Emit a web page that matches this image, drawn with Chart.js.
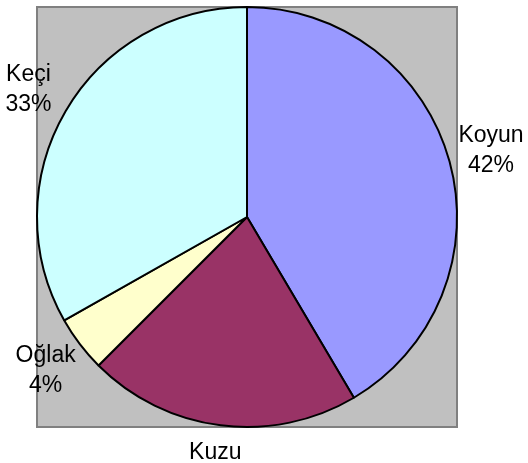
<!DOCTYPE html>
<html lang="tr">
<head>
  <meta charset="UTF-8">
  <title>Hayvan dağılımı</title>
  <script src="https://cdn.jsdelivr.net/npm/chart.js"></script>
  <style>
    html, body {
      margin: 0;
      padding: 0;
      background: #fff;
    }
    #wrap {
      width: 528px;
      height: 463px;
    }
  </style>
</head>
<body>
  <div id="wrap"><canvas id="pie"></canvas></div>
  <script>
    // data
    const categories = ['Koyun', 'Kuzu', 'Oğlak', 'Keçi'];
    const values = [41.5, 21, 4.3, 33.2];
    const sliceColors = ['#9999FF', '#993366', '#FFFFCC', '#CCFFFF'];

    const total = values.reduce((a, b) => a + b, 0);

    // gray plot area behind the pie
    const plotBox = {
      id: 'plotBox',
      beforeDraw(chart) {
        const { ctx, chartArea: a } = chart;
        ctx.save();
        ctx.fillStyle = '#C0C0C0';
        ctx.fillRect(a.left + 1, a.top + 1, a.width - 2, a.height - 2);
        ctx.strokeStyle = '#808080';
        ctx.lineWidth = 2;
        ctx.strokeRect(a.left + 1, a.top + 1, a.width - 2, a.height - 2);
        ctx.restore();
      }
    };

    // name + percent outside each slice
    const outsideLabels = {
      id: 'outsideLabels',
      afterDraw(chart) {
        const { ctx } = chart;
        const meta = chart.getDatasetMeta(0);
        ctx.save();
        ctx.font = '23px "Liberation Sans", Arial, sans-serif';
        ctx.fillStyle = '#000';
        ctx.textAlign = 'center';
        ctx.textBaseline = 'middle';
        meta.data.forEach((arc, i) => {
          const mid = (arc.startAngle + arc.endAngle) / 2;
          const r = arc.outerRadius + 43;
          const x = arc.x + Math.cos(mid) * r;
          const y = arc.y + Math.sin(mid) * r;
          const pct = Math.round(values[i] / total * 100) + '%';
          ctx.fillText(categories[i], x, y - 15);
          ctx.fillText(pct, x, y + 15);
        });
        ctx.restore();
      }
    };

    new Chart(document.getElementById('pie'), {
      type: 'pie',
      data: {
        labels: categories,
        datasets: [{
          data: values,
          backgroundColor: sliceColors,
          borderColor: '#000',
          borderWidth: 2
        }]
      },
      options: {
        responsive: true,
        maintainAspectRatio: false,
        animation: false,
        layout: {
          padding: { left: 36, top: 6, right: 70, bottom: 35 }
        },
        plugins: {
          legend: { display: false },
          tooltip: { enabled: false }
        }
      },
      plugins: [plotBox, outsideLabels]
    });
  </script>
</body>
</html>
